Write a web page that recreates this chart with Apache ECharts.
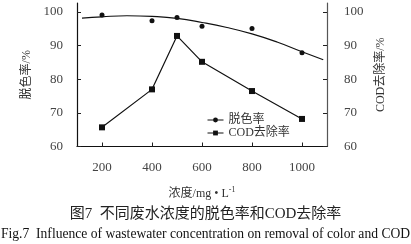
<!DOCTYPE html>
<html><head><meta charset="utf-8">
<script src="https://cdn.jsdelivr.net/npm/echarts@6/dist/echarts.min.js"></script>
<style>html,body{margin:0;padding:0;background:#fff}#c{width:411px;height:244px}</style>
</head><body><div id="c"></div>
<script>
// Data
const concentration = [200, 400, 500, 600, 800, 1000];
const decolorRate = [99.1, 97.4, 98.4, 95.8, 95.1, 87.9];   // 脱色率 (%)
const codRemoval = [65.7, 77.0, 92.9, 85.2, 76.5, 68.2];    // COD去除率 (%)
// trend curve of 脱色率
const trendX = [120, 200, 300, 400, 500, 600, 700, 800, 900, 1000, 1085];
const trendY = [98.2, 98.6, 98.9, 98.7, 98.1, 96.9, 95.4, 93.5, 91.1, 88.2, 85.8];
const xTicks = [200, 400, 600, 800, 1000];
const yTicks = [60, 70, 80, 90, 100];

const serif = '"Liberation Serif","Noto Sans CJK SC",serif';
const pairs = (xs, ys) => xs.map((x, i) => [x, ys[i]]);

const chart = echarts.init(document.getElementById('c'), null, {renderer: 'canvas'});
const axisCommon = {
  type: 'value', min: 60, max: 102.7,
  splitLine: {show: false},
  axisTick: {show: true, inside: true, length: 4, customValues: yTicks, lineStyle: {color: '#222'}},
  axisLabel: {customValues: yTicks, formatter: v => String(v), fontFamily: serif, fontSize: 13, color: '#444'},
  nameLocation: 'middle', nameRotate: 90,
  nameTextStyle: {fontFamily: serif, fontSize: 12, color: '#333'}
};
chart.setOption({
  animation: false,
  grid: {left: 77, right: 84, top: 3, bottom: 97.5, containLabel: false},
  title: [
    {text: '图7  不同废水浓度的脱色率和COD去除率', left: 'center', top: 202,
     textStyle: {fontFamily: serif, fontSize: 15, fontWeight: 'normal', color: '#222'}},
    {text: 'Fig.7  Influence of wastewater concentration on removal of color and COD', left: 'center', top: 223,
     textStyle: {fontFamily: serif, fontSize: 13.6, fontWeight: 'normal', color: '#111'}}
  ],
  legend: {
    orient: 'vertical', left: 202, top: 109, itemGap: 1, itemWidth: 16, itemHeight: 6,
    textStyle: {fontFamily: serif, fontSize: 12, color: '#333'},
    lineStyle: {width: 1},
    data: [
      {name: '脱色率', lineStyle: {opacity: 1, width: 1, color: '#111'}},
      {name: 'COD去除率'}
    ]
  },
  xAxis: {
    type: 'value', min: 100, max: 1100,
    name: '浓度/mg • L{sup|-1}', nameLocation: 'middle', nameGap: 39,
    nameTextStyle: {fontFamily: serif, fontSize: 12, color: '#333',
      rich: {sup: {fontSize: 8, verticalAlign: 'top', padding: [0, 0, 8, 0], fontFamily: serif, color: '#333'}}},
    splitLine: {show: false},
    axisLine: {lineStyle: {color: '#111', width: 1.2}},
    axisTick: {inside: true, length: 4, customValues: xTicks, lineStyle: {color: '#222'}},
    axisLabel: {customValues: xTicks, formatter: v => String(v), margin: 15, fontFamily: serif, fontSize: 13, color: '#444'}
  },
  yAxis: [
    Object.assign({}, axisCommon, {
      position: 'left', name: '脱色率/%', nameGap: 35,
      axisLine: {show: true, lineStyle: {color: '#111', width: 1.2}},
      axisLabel: Object.assign({}, axisCommon.axisLabel, {margin: 14})
    }),
    Object.assign({}, axisCommon, {
      position: 'right', name: 'COD去除率/%', nameGap: 41,
      axisLine: {show: true, lineStyle: {color: '#555', width: 1.2}},
      axisLabel: Object.assign({}, axisCommon.axisLabel, {margin: 17})
    })
  ],
  series: [
    {name: '脱色率', type: 'line', yAxisIndex: 0, data: pairs(concentration, decolorRate),
     symbol: 'circle', symbolSize: 5, lineStyle: {opacity: 0, width: 0},
     itemStyle: {color: '#111'}, z: 3},
    {name: 'trend', type: 'line', yAxisIndex: 0, data: pairs(trendX, trendY),
     smooth: true, showSymbol: false, symbol: 'none',
     lineStyle: {color: '#111', width: 1.2}, itemStyle: {color: '#111'}},
    {name: 'COD去除率', type: 'line', yAxisIndex: 1, data: pairs(concentration, codRemoval),
     symbol: 'rect', symbolSize: 6, lineStyle: {color: '#111', width: 1.2},
     itemStyle: {color: '#111'}}
  ]
});
</script></body></html>
